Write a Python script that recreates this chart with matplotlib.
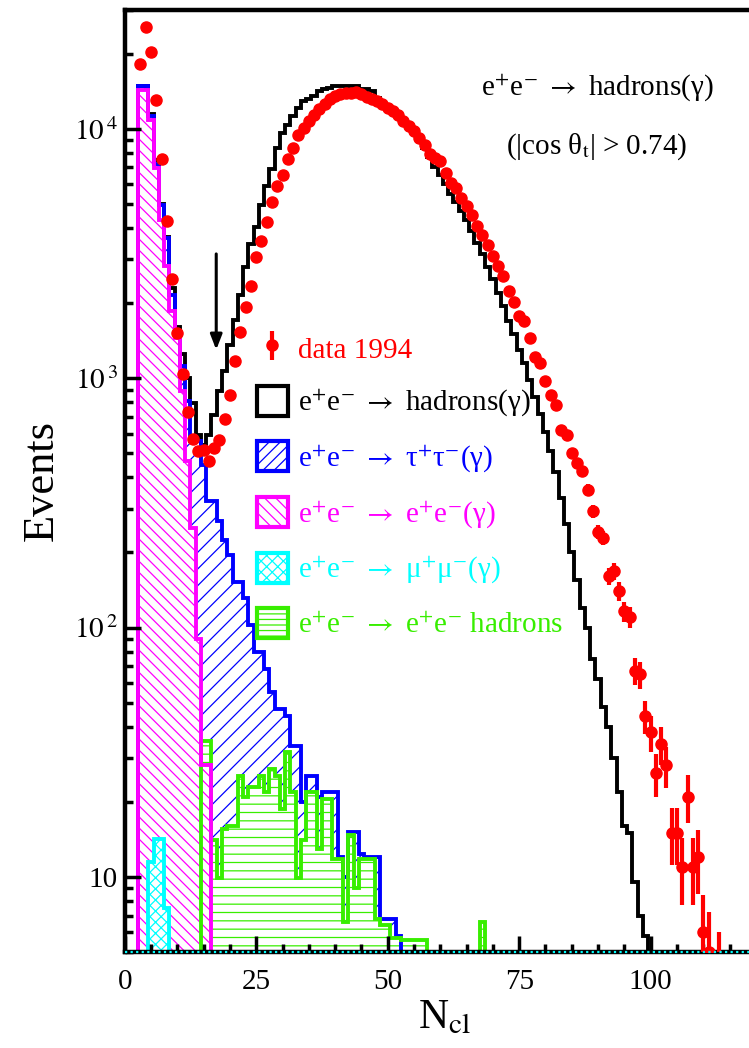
import numpy as np
import matplotlib
matplotlib.use("Agg")
import matplotlib.pyplot as plt
from matplotlib.patches import Patch
from matplotlib.ticker import FixedLocator, MultipleLocator, LogLocator, NullFormatter

plt.rcParams['font.family'] = ['Liberation Serif', 'DejaVu Serif']
plt.rcParams['mathtext.fontset'] = 'stix'
plt.rcParams['hatch.linewidth'] = 0.9

# bin contents, one value per N_cl bin, starting at the given first bin
data_first = 3
data_1994 = [18240, 25700, 20360, 13070, 7580, 4280, 2500, 1520, 1040, 730,
             568, 509, 514, 464, 524, 564, 684, 855, 1170, 1530,
             1930, 2340, 3070, 3560, 4230, 5070, 5880, 6550, 7580, 8390,
             9480, 10090, 10740, 11410, 11960, 12530, 13120, 13530, 13740, 13950,
             13950, 14040, 13740, 13400, 13120, 12910, 12530, 12140, 11780, 11350,
             10740, 10250, 9790, 9210, 8650, 7950, 7650, 7410, 6650, 6070,
             5800, 5290, 4890, 4530, 4070, 3760, 3430, 3080, 2810, 2560,
             2230, 2030, 1770, 1690, 1450, 1220, 1150, 970, 857, 782,
             620, 591, 500, 456, 425, 356, 293, 242, 229, 161,
             168, 140, 116, 110, 67, 65, 44, 38, 26, 34,
             28, 15, 15, 11, 21, 11, 12, 6, 5, 0, 4]

hadrons_first = 3
hadrons_total = [14900, 14900, 11500, 7500, 5000, 3700, 2300, 1600, 1250, 1000,
                 794, 590, 540, 590, 710, 887, 1066, 1358, 1710, 2155,
                 2790, 3460, 4050, 4970, 5890, 6870, 8390, 9640, 10400, 11240,
                 12140, 12910, 13200, 13530, 14170, 14380, 14600, 14830, 14830, 14830,
                 14830, 14830, 14500, 14380, 14170, 13310, 12740, 12300, 12000, 11500,
                 10900, 10300, 9800, 9100, 8400, 7700, 7000, 6500, 6000, 5500,
                 5100, 4700, 4300, 3900, 3500, 3150, 2800, 2500, 2200, 1950,
                 1700, 1500, 1300, 1150, 980, 840, 720, 610, 510, 420,
                 330, 260, 200, 155, 120, 100, 75, 62, 48, 40,
                 30, 22, 16, 15, 9.5, 7, 5.8]

tautau_first = 3
tautau_top = [14900, 14900, 11300, 7200, 4950, 3650, 2150, 1550, 1120, 810,
              560, 560, 450, 321, 321, 267, 224, 195, 153, 153,
              131, 102, 80, 80, 68, 55, 47, 47, 44, 33.6,
              33.6, 20, 25.5, 25.5, 21, 22, 22, 22, 12, 10,
              15.2, 15.2, 12.4, 12, 12, 12, 6.8, 6.8, 6.8, 5.8]

ee_first = 3
ee_top = [14300, 14300, 10800, 6970, 4310, 2820, 1860, 1450, 887, 464,
          250, 90, 28, 28]

mumu_first = 5
mumu_top = [11.5, 14.2, 14.2, 7.5]

eeh_first = 15
eeh_top = [35, 35, 14, 9.9, 15.5, 16, 16, 25.5, 21, 23,
           23, 25.5, 22, 27, 25.5, 18.8, 31.7, 22, 9.9, 14,
           21.9, 21.9, 13, 20.6, 20.6, 11.8, 11.8, 6.6, 14.7, 9.0,
           11.8, 11.8, 11.8, 6.8, 6.4, 6.4, 5.7, 5.7, 5.6, 5.6,
           5.6, 5.6, 5.6, 0, 0, 0, 0, 0, 0, 0,
           0, 0, 0, 6.6]

legend_labels = ['data 1994',
                 r'e$^{+}$e$^{-}$ $\rightarrow$ hadrons(γ)',
                 r'e$^{+}$e$^{-}$ $\rightarrow$ τ$^{+}$τ$^{-}$(γ)',
                 r'e$^{+}$e$^{-}$ $\rightarrow$ e$^{+}$e$^{-}$(γ)',
                 r'e$^{+}$e$^{-}$ $\rightarrow$ μ$^{+}$μ$^{-}$(γ)',
                 r'e$^{+}$e$^{-}$ $\rightarrow$ e$^{+}$e$^{-}$ hadrons']
x_ticks = [0, 25, 50, 75, 100]
y_ticks = [10, 100, 1000, 10000]
y_ticklabels = ['10', r'$10^{\,2}$', r'$10^{\,3}$', r'$10^{\,4}$']
cut_ncl = 17.4

XLIM = (0, 120)
YLIM = (5, 3e4)
FLOOR = 1.0

RED = '#ff0000'
BLUE = '#0000ff'
MAGENTA = '#ff00ff'
CYAN = '#00ffff'
GREEN = '#38ee00'


def edges_for(first, vals):
    return first - 0.5 + np.arange(len(vals) + 1)


def floored(vals):
    v = np.asarray(vals, dtype=float)
    return np.where(v > 0, v, FLOOR)


fig = plt.figure(figsize=(7.49, 10.48), dpi=100)
ax = fig.add_axes([0.1665, 0.0916, 0.8427, 0.899])
ax.set_yscale('log')

# hatched fills, upper stack levels first so lower ones cover them
fills = [
    (tautau_first, tautau_top, BLUE, '//', 1.0),
    (eeh_first, eeh_top, GREEN, '--', 1.1),
    (ee_first, ee_top, MAGENTA, '\\\\\\', 1.2),
    (mumu_first, mumu_top, CYAN, 'xxx', 1.3),
]
for first, vals, col, hatch, z in fills:
    ax.stairs(floored(vals), edges_for(first, vals), baseline=FLOOR, fill=True,
              facecolor='white', edgecolor=col, hatch=hatch, linewidth=0, zorder=z)

outlines = [
    (hadrons_first, hadrons_total, 'black', 2.0),
    (tautau_first, tautau_top, BLUE, 2.1),
    (eeh_first, eeh_top, GREEN, 2.2),
    (ee_first, ee_top, MAGENTA, 2.3),
    (mumu_first, mumu_top, CYAN, 2.4),
]
for first, vals, col, z in outlines:
    ax.stairs(floored(vals), edges_for(first, vals), baseline=FLOOR,
              color=col, linewidth=2.8, zorder=z)

d = np.asarray(data_1994, dtype=float)
n = data_first + np.arange(len(d))
m = d > 0
err = ax.errorbar(n[m], d[m], yerr=np.sqrt(d[m]), fmt='o', color=RED, ms=8,
                  elinewidth=3, capsize=0, zorder=6)

ax.annotate('', xy=(cut_ncl, 1300), xytext=(cut_ncl, 3150),
            arrowprops=dict(arrowstyle='-|>,head_length=0.9,head_width=0.35',
                            lw=2.2, color='black', shrinkA=0, shrinkB=0),
            zorder=7)

ax.axhline(YLIM[0], color=CYAN, ls=(0, (1, 1.5)), lw=1.6, zorder=8, clip_on=False)

ax.set_xlim(*XLIM)
ax.set_ylim(*YLIM)
ax.xaxis.set_major_locator(FixedLocator(x_ticks))
ax.set_xticklabels([str(t) for t in x_ticks])
ax.xaxis.set_minor_locator(MultipleLocator(5))
ax.yaxis.set_major_locator(FixedLocator(y_ticks))
ax.set_yticklabels(y_ticklabels)
ax.yaxis.set_minor_locator(LogLocator(base=10, subs=np.arange(2, 10)))
ax.yaxis.set_minor_formatter(NullFormatter())
ax.tick_params(which='both', direction='in', top=False, right=False, width=2.5)
ax.tick_params(which='major', length=11.5, labelsize=21)
ax.tick_params(which='minor', length=5.8)
ax.tick_params(axis='x', which='major', pad=12)
ax.tick_params(axis='y', which='major', pad=5)
ax.set_axisbelow(False)

for s in ['left', 'bottom', 'top']:
    ax.spines[s].set_linewidth(3.2)
ax.spines['right'].set_visible(False)

ax.set_ylabel('Events', fontsize=32)
ax.yaxis.set_label_coords(-0.10, 0.5)
ax.set_xlabel(r'N$_{\mathrm{cl}}$', fontsize=30)
ax.xaxis.set_label_coords(0.507, -0.05)

ax.text(0.748, 0.917, r'e$^{+}$e$^{-}$ $\rightarrow$ hadrons(γ)', transform=ax.transAxes,
        ha='center', va='center', fontsize=21)
ax.text(0.748, 0.855, r'(|cos θ$_{\mathrm{t}}$| > 0.74)', transform=ax.transAxes,
        ha='center', va='center', fontsize=21)

handles = [err,
           Patch(facecolor='white', edgecolor='black', lw=3),
           Patch(facecolor='white', edgecolor=BLUE, hatch='///', lw=3),
           Patch(facecolor='white', edgecolor=MAGENTA, hatch='\\\\\\', lw=3),
           Patch(facecolor='white', edgecolor=CYAN, hatch='xxx', lw=3),
           Patch(facecolor='white', edgecolor=GREEN, hatch='---', lw=3)]
leg = ax.legend(handles, legend_labels, loc='upper left', bbox_to_anchor=(0.2096, 0.657),
                frameon=False, fontsize=21, handlelength=1.05, handleheight=1.2,
                handletextpad=0.35, labelspacing=0.75, borderpad=0, borderaxespad=0)
for t, c in zip(leg.get_texts(), [RED, 'black', BLUE, MAGENTA, CYAN, GREEN]):
    t.set_color(c)

fig.savefig('out.png', dpi=100)
